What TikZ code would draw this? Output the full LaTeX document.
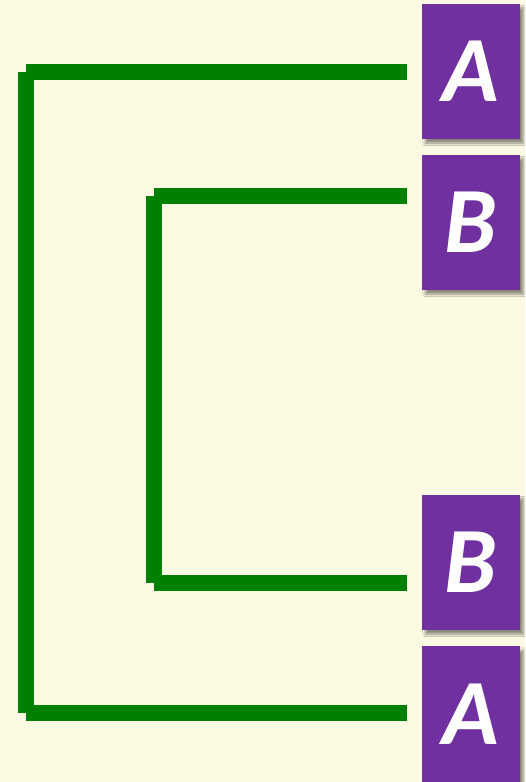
\documentclass[tikz,border=0pt]{standalone}
\usepackage{fontspec}
\setmainfont{Carlito}
\usetikzlibrary{shadows.blur}
\definecolor{bgc}{HTML}{FCF9E3}
\definecolor{grn}{HTML}{008000}
\definecolor{pur}{HTML}{7030A0}
\begin{document}
\begin{tikzpicture}[x=0.75pt,y=-0.75pt,
  leaf/.style={fill=pur,draw=none,minimum width=73.5pt,minimum height=101.5pt,inner sep=0pt,
    text=white,font=\fontsize{70}{70}\selectfont\bfseries\itshape,
    blur shadow={shadow xshift=2.5pt,shadow yshift=-3pt,shadow blur steps=6,shadow opacity=45}},
  branch/.style={draw=grn,line width=12pt,line cap=butt}]
\fill[bgc] (0,0) rectangle (525,782);
\useasboundingbox (0,0) rectangle (525,782);
\node[leaf] (a1) at (471,71.5) {A};
\node[leaf] (b1) at (471,222.5) {B};
\node[leaf] (b2) at (471,562.5) {B};
\node[leaf] (a2) at (471,714) {A};
\coordinate (ea1) at (407,72);
\coordinate (eb1) at (407,196);
\coordinate (eb2) at (407,583);
\coordinate (ea2) at (407,713);
\coordinate (oa) at (26,72);
\coordinate (ob) at (26,713);
\coordinate (ia) at (154,196);
\coordinate (ib) at (154,583);
\draw[branch] (oa) -- (ea1);
\draw[branch] (oa) -- (ob);
\draw[branch] (ob) -- (ea2);
\draw[branch] (ia) -- (eb1);
\draw[branch] (ia) -- (ib);
\draw[branch] (ib) -- (eb2);
\end{tikzpicture}
\end{document}
